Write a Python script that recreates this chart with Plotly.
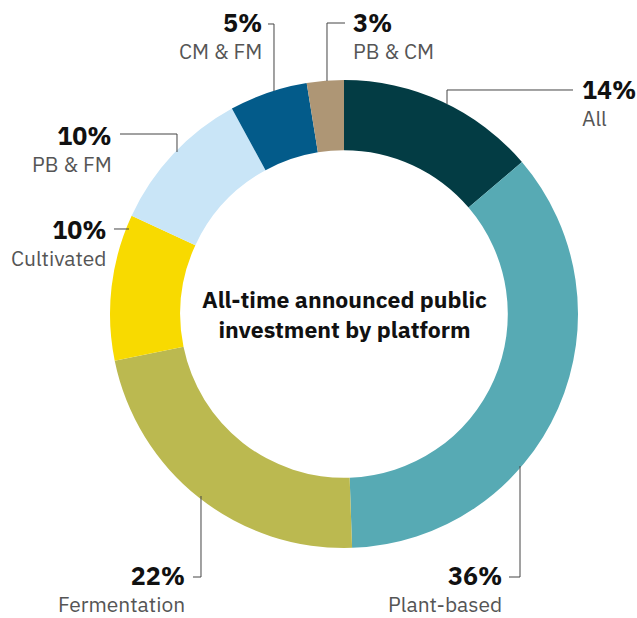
import plotly.graph_objects as go

# ---- data ----
platforms = ["All", "Plant-based", "Fermentation", "Cultivated", "PB & FM", "CM & FM", "PB & CM"]
shares = [13.75, 35.7, 22.35, 10.1, 10.15, 5.4, 2.55]
pct_labels = ["14%", "36%", "22%", "10%", "10%", "5%", "3%"]
colors = ["#033c44", "#57aab4", "#bbb950", "#f8da00", "#c9e5f7", "#035b8a", "#ae9675"]
center_title = "All-time announced public<br>investment by platform"

# ---- layout constants (pixels) ----
W, H = 637, 618
CX, CY, R = 344, 314, 234
HOLE = 0.70

def px(x):
    return x / W

def py(y):
    return 1 - y / H

fig = go.Figure(go.Pie(
    labels=platforms,
    values=shares,
    marker=dict(colors=colors, line=dict(width=0)),
    hole=HOLE,
    sort=False,
    direction="clockwise",
    rotation=0,
    textinfo="none",
    hoverinfo="label",
    showlegend=False,
    domain=dict(x=[px(CX - R), px(CX + R)], y=[py(CY + R), py(CY - R)]),
))

# leader line paths (pixel polylines) and label block centre per slice
leaders = {
    "All":          dict(path=[(447, 104), (447, 90), (573, 90)], tx=580, ty=103, anchor="left"),
    "Plant-based":  dict(path=[(520, 466), (520, 577), (509, 577)], tx=504, ty=588, anchor="right"),
    "Fermentation": dict(path=[(201, 496), (201, 577), (193, 577)], tx=187, ty=588, anchor="right"),
    "Cultivated":   dict(path=[(129, 229), (114, 229)], tx=109, ty=242, anchor="right"),
    "PB & FM":      dict(path=[(177, 152), (177, 134), (120, 134)], tx=114, ty=149, anchor="right"),
    "CM & FM":      dict(path=[(274, 91), (274, 24), (268, 24)], tx=264, ty=36, anchor="right"),
    "PB & CM":      dict(path=[(327, 81), (327, 23), (345, 23)], tx=351, ty=36, anchor="left"),
}

shapes = []
annotations = []
for name, pct in zip(platforms, pct_labels):
    d = leaders[name]
    pts = d["path"]
    path = "M " + " L ".join(f"{px(x):.5f},{py(y):.5f}" for x, y in pts)
    shapes.append(dict(type="path", path=path, xref="paper", yref="paper",
                       line=dict(color="#444444", width=1)))
    text = (f"<span style='font-size:25px;color:#111111'><b>{pct}</b></span>"
            f"<br>{name}")
    annotations.append(dict(x=px(d["tx"]), y=py(d["ty"]), xref="paper", yref="paper",
                            text=text, showarrow=False,
                            xanchor=d["anchor"], yanchor="middle", align=d["anchor"],
                            font=dict(size=21, color="#555555")))

annotations.append(dict(x=px(CX), y=py(CY), xref="paper", yref="paper",
                        text=f"<b>{center_title}</b>", showarrow=False,
                        xanchor="center", yanchor="middle", align="center",
                        font=dict(size=23, color="#111111")))

fig.update_layout(
    width=W, height=H,
    margin=dict(l=0, r=0, t=0, b=0),
    paper_bgcolor="white",
    plot_bgcolor="white",
    font=dict(family="IBM Plex Sans, Noto Sans, sans-serif"),
    shapes=shapes,
    annotations=annotations,
)

fig.write_html("out.html")
